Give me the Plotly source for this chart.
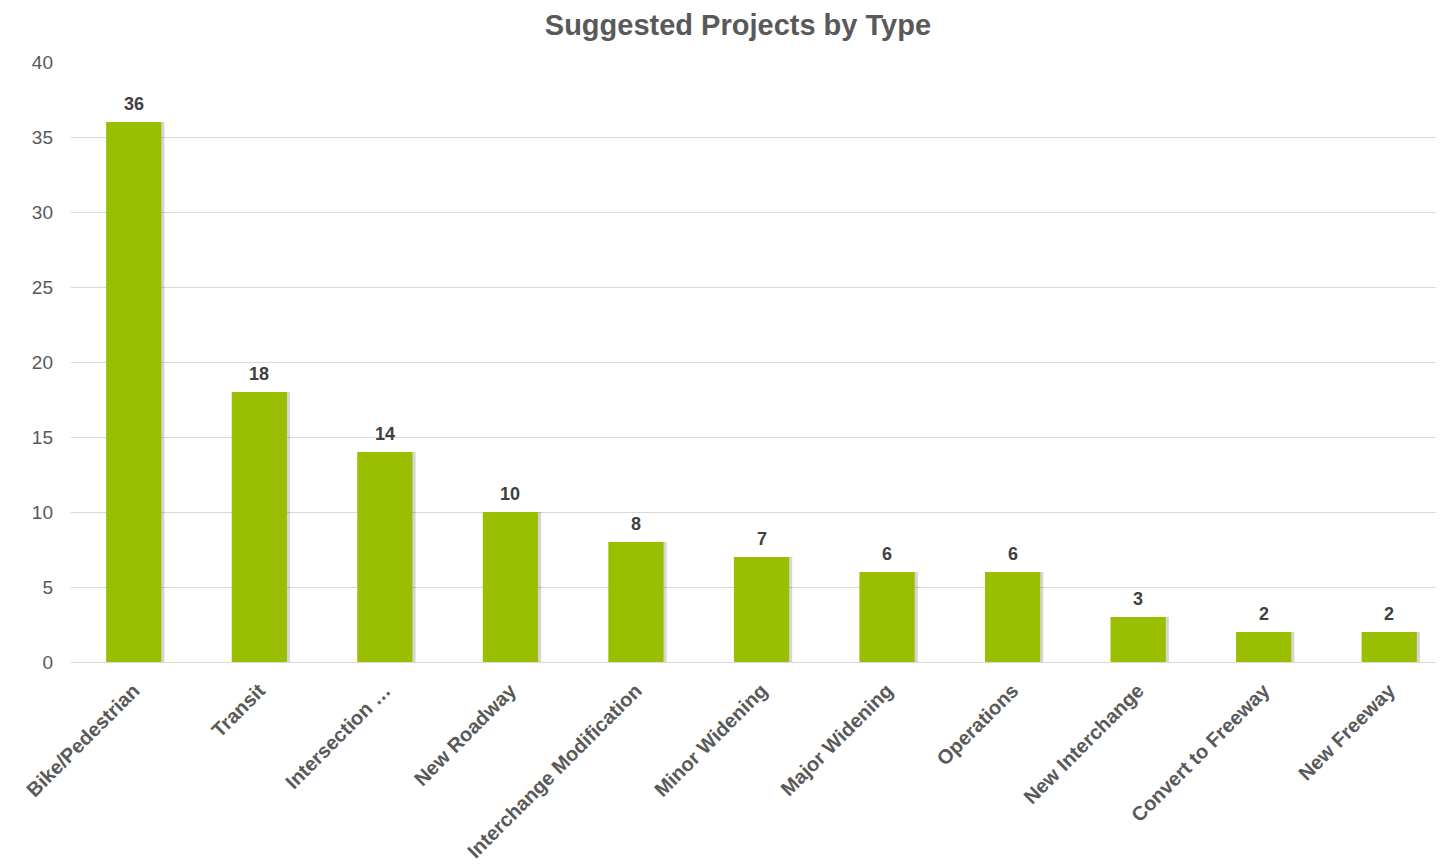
import plotly.graph_objects as go

categories = ["Bike/Pedestrian", "Transit", "Intersection …", "New Roadway",
              "Interchange Modification", "Minor Widening", "Major Widening",
              "Operations", "New Interchange", "Convert to Freeway", "New Freeway"]
values = [36, 18, 14, 10, 8, 7, 6, 6, 3, 2, 2]
y_ticks = [0, 5, 10, 15, 20, 25, 30, 35, 40]

FONT = "Liberation Sans, Arial, sans-serif"
GREEN = "#99BF00"

fig = go.Figure()
# soft shadow
fig.add_trace(go.Bar(
    x=categories, y=values, width=0.44, offset=-0.195,
    marker=dict(color="rgba(0,0,0,0.16)", line=dict(width=0)),
    hoverinfo="skip", showlegend=False,
))
fig.add_trace(go.Bar(
    x=categories, y=values, width=0.44, offset=-0.22,
    marker=dict(color=GREEN, line=dict(width=0)),
    showlegend=False,
))

# value labels above the bars
for c, v in zip(categories, values):
    fig.add_annotation(x=c, y=v, text=f"<b>{v}</b>", showarrow=False,
                       yshift=18, yanchor="middle", xanchor="center",
                       font=dict(family=FONT, size=18, color="#404040"))

fig.update_layout(
    width=1444, height=864,
    paper_bgcolor="white", plot_bgcolor="white",
    barmode="overlay",
    margin=dict(l=63, r=0, t=54, b=210, autoexpand=False),
    title=dict(text="<b>Suggested Projects by Type</b>", x=0.5055, xanchor="center",
               y=0.992, yanchor="top", pad=dict(t=0, b=0),
               font=dict(family=FONT, size=29, color="#595959")),
    font=dict(family=FONT, color="#595959"),
    xaxis=dict(
        range=[-0.5, 10.5],
        tickangle=-45, tickfont=dict(family=FONT, size=20, color="#595959"),
        tickprefix="<b>", ticksuffix="</b>",
        showgrid=False, showline=False, ticks="", zeroline=False,
        ticklabelstandoff=12,
    ),
    yaxis=dict(
        range=[0, 40], tickvals=y_ticks,
        tickfont=dict(family=FONT, size=19, color="#595959"),
        showgrid=True, gridcolor="#D9D9D9", gridwidth=1.3,
        zeroline=True, zerolinecolor="#D9D9D9", zerolinewidth=1.3,
        showline=False, ticks="", ticklen=0, ticklabelstandoff=17,
    ),
)

fig.write_html("out.html")
